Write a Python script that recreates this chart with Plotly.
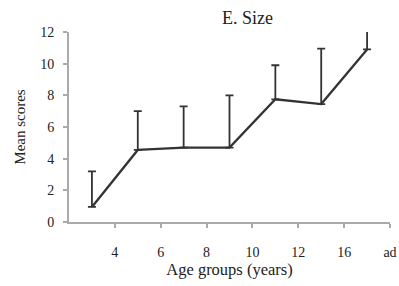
import plotly.graph_objects as go

categories = ["3", "5", "7", "9", "11", "14", "ad"]
x_pos = [0.5, 1.5, 2.5, 3.5, 4.5, 5.5, 6.5]
means = [0.95, 4.55, 4.7, 4.7, 7.75, 7.45, 10.9]
err_plus = [2.25, 2.45, 2.6, 3.3, 2.15, 3.5, 1.3]
tick_vals = [1, 2, 3, 4, 5, 6, 7]
tick_text = ["4", "6", "8", "10", "12", "16", "ad"]

font = "Liberation Serif"
ink = "#222222"
fig = go.Figure()
fig.add_trace(go.Scatter(
    x=x_pos, y=means, mode="lines",
    line=dict(color="#333333", width=2.3),
    error_y=dict(type="data", array=err_plus, arrayminus=[0]*7, symmetric=False,
                 color="#333333", thickness=1.8, width=4),
    showlegend=False,
))
fig.update_layout(
    width=399, height=286,
    margin=dict(l=69, r=9, t=32, b=64),
    plot_bgcolor="white", paper_bgcolor="white",
    font=dict(family=font, size=14, color=ink),
)
fig.add_annotation(text="E. Size", xref="paper", yref="paper", x=0.555, y=1.0,
                   yanchor="bottom", yshift=2, showarrow=False,
                   font=dict(size=18, family=font, color=ink))
fig.update_xaxes(
    range=[0, 7], tickvals=tick_vals, ticktext=tick_text, automargin=False,
    showline=True, linecolor="#aaaaaa", linewidth=1.8,
    ticks="outside", ticklen=4, tickcolor="#aaaaaa", tickwidth=1.5,
    showgrid=False, zeroline=False, ticklabelstandoff=12,
    tickfont=dict(size=14, family=font, color=ink),
    title=dict(text="Age groups (years)", font=dict(size=16.5, family=font, color=ink), standoff=0),
)
fig.update_yaxes(
    range=[0, 12], dtick=2, automargin=False,
    showline=True, linecolor="#aaaaaa", linewidth=1.8,
    ticks="outside", ticklen=4, tickcolor="#aaaaaa", tickwidth=1.5,
    showgrid=False, zeroline=False, ticklabelstandoff=6,
    tickfont=dict(size=14, family=font, color=ink),
    title=dict(text="Mean scores", font=dict(size=15, family=font, color=ink), standoff=11),
)
fig.write_html("out.html", config={"displayModeBar": False},
               post_script="document.body.style.margin='0';document.body.style.overflow='hidden';")
